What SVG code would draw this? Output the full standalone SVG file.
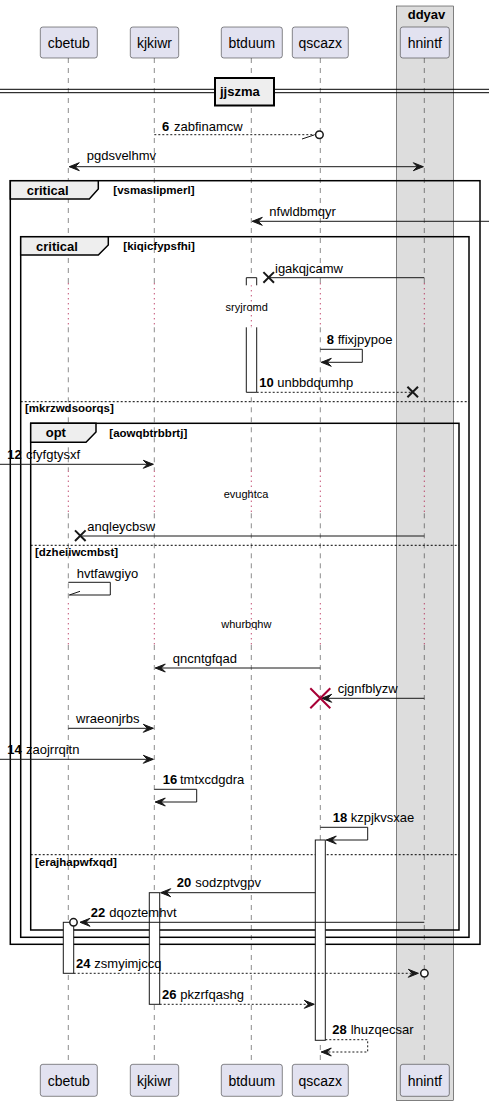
<svg xmlns="http://www.w3.org/2000/svg" xmlns:xlink="http://www.w3.org/1999/xlink" width="495" height="1106" viewBox="0 0 495 1106">
  <style>
    text { font-family: "Liberation Sans", Arial, sans-serif; fill: #000; }
    .pname { font-size: 14px; }
    .msg { font-size: 13px; }
    .num { font-size: 13px; font-weight: bold; }
    .gtitle { font-size: 13px; font-weight: bold; }
    .cond { font-size: 11.5px; font-weight: bold; }
    .delay { font-size: 11px; }
    .part { fill: #E2E2F0; stroke: #181818; stroke-width: 0.5; }
    .life { stroke: #181818; stroke-width: 0.5; stroke-dasharray: 5,5; fill: none; }
    .dots { stroke: #A80036; stroke-width: 1; stroke-dasharray: 1,4; fill: none; }
    .frame { fill: none; stroke: #000; stroke-width: 1.5; }
    .tab { fill: #EEEEEE; stroke: #000; stroke-width: 1.5; }
    .sep { stroke: #000; stroke-width: 1; stroke-dasharray: 2,2; fill: none; }
    .line { stroke: #181818; stroke-width: 1; fill: none; }
    .dash { stroke: #181818; stroke-width: 1; stroke-dasharray: 2,2; fill: none; }
    .head { fill: #181818; stroke: #181818; stroke-width: 1; }
    .kill { stroke: #181818; stroke-width: 2; fill: none; }
    .killred { stroke: #A80036; stroke-width: 2; fill: none; }
    .ring { fill: #FFFFFF; stroke: #181818; stroke-width: 1.5; }
    .act { fill: #FFFFFF; stroke: #181818; stroke-width: 1; }
  </style>
  <defs>
    <!-- filled arrowheads, tip at origin -->
    <path id="headR" class="head" d="M0,0 L-10,-4 L-6,0 L-10,4 Z"/>
    <path id="headL" class="head" d="M0,0 L10,-4 L6,0 L10,4 Z"/>
    <path id="cross" d="M-5.3,-5.3 L5.3,5.3 M-5.3,5.3 L5.3,-5.3"/>
  </defs>

  <!-- box ddyav -->
  <g id="box-ddyav">
    <rect x="396.3" y="6" width="57.4" height="1094.7" fill="#DDDDDD" stroke="#181818" stroke-width="0.5"/>
    <text x="426.5" y="19" text-anchor="middle" class="gtitle">ddyav</text>
  </g>

  <!-- lifelines (broken where delays are drawn) -->
  <g id="lifelines">
    <path class="life" d="M68.3,58 V283.3 M68.3,327.3 V470.7 M68.3,513.3 V603.3 M68.3,645 V1064"/>
    <path class="life" d="M154.3,58 V283.3 M154.3,327.3 V470.7 M154.3,513.3 V603.3 M154.3,645 V1064"/>
    <path class="life" d="M251.3,58 V283.3 M251.3,327.3 V470.7 M251.3,513.3 V603.3 M251.3,645 V1064"/>
    <path class="life" d="M320.3,58 V283.3 M320.3,327.3 V470.7 M320.3,513.3 V603.3 M320.3,645 V1064"/>
    <path class="life" d="M424.3,58 V283.3 M424.3,327.3 V470.7 M424.3,513.3 V603.3 M424.3,645 V1064"/>
  </g>

  <!-- participants, top and bottom -->
  <g id="p-cbetub">
    <rect class="part" x="40.3" y="27" width="57" height="31" rx="2.5"/>
    <text class="pname" x="68.8" y="48" text-anchor="middle">cbetub</text>
    <rect class="part" x="40.3" y="1064.3" width="57" height="32" rx="2.5"/>
    <text class="pname" x="68.8" y="1085.5" text-anchor="middle">cbetub</text>
  </g>
  <g id="p-kjkiwr">
    <rect class="part" x="130.3" y="27" width="48.4" height="31" rx="2.5"/>
    <text class="pname" x="154.5" y="48" text-anchor="middle">kjkiwr</text>
    <rect class="part" x="130.3" y="1064.3" width="48.4" height="32" rx="2.5"/>
    <text class="pname" x="154.5" y="1085.5" text-anchor="middle">kjkiwr</text>
  </g>
  <g id="p-btduum">
    <rect class="part" x="221.3" y="27" width="61" height="31" rx="2.5"/>
    <text class="pname" x="251.8" y="48" text-anchor="middle">btduum</text>
    <rect class="part" x="221.3" y="1064.3" width="61" height="32" rx="2.5"/>
    <text class="pname" x="251.8" y="1085.5" text-anchor="middle">btduum</text>
  </g>
  <g id="p-qscazx">
    <rect class="part" x="292.3" y="27" width="56" height="31" rx="2.5"/>
    <text class="pname" x="320.3" y="48" text-anchor="middle">qscazx</text>
    <rect class="part" x="292.3" y="1064.3" width="56" height="32" rx="2.5"/>
    <text class="pname" x="320.3" y="1085.5" text-anchor="middle">qscazx</text>
  </g>
  <g id="p-hnintf">
    <rect class="part" x="400.3" y="27" width="49" height="31" rx="2.5"/>
    <text class="pname" x="424.8" y="48" text-anchor="middle">hnintf</text>
    <rect class="part" x="400.3" y="1064.3" width="49" height="32" rx="2.5"/>
    <text class="pname" x="424.8" y="1085.5" text-anchor="middle">hnintf</text>
  </g>

  <!-- divider -->
  <g id="divider-jjszma">
    <line x1="0" y1="89.3" x2="489" y2="89.3" stroke="#000" stroke-width="1"/>
    <line x1="0" y1="92.7" x2="489" y2="92.7" stroke="#000" stroke-width="1"/>
    <rect x="215" y="78" width="59" height="27.5" fill="#EEEEEE" stroke="#000" stroke-width="2"/>
    <text class="gtitle" x="220" y="96">jjszma</text>
  </g>

  <!-- delays -->
  <g id="delay-sryjromd">
    <path class="dots" d="M68.3,283.3 V327.3 M154.3,283.3 V327.3 M251.3,285.3 V327.3 M320.3,283.3 V327.3 M424.3,283.3 V327.3"/>
    <text class="delay" x="246.7" y="310.7" text-anchor="middle">sryjromd</text>
  </g>
  <g id="delay-evughtca">
    <path class="dots" d="M68.3,470.7 V513.3 M154.3,470.7 V513.3 M251.3,470.7 V513.3 M320.3,470.7 V513.3 M424.3,470.7 V513.3"/>
    <text class="delay" x="246" y="498.3" text-anchor="middle">evughtca</text>
  </g>
  <g id="delay-whurbqhw">
    <path class="dots" d="M68.3,603.3 V645 M154.3,603.3 V645 M251.3,603.3 V645 M320.3,603.3 V645 M424.3,603.3 V645"/>
    <text class="delay" x="246.3" y="628.3" text-anchor="middle">whurbqhw</text>
  </g>

  <!-- groups -->
  <g id="group-critical-outer">
    <rect class="frame" x="10.3" y="180.7" width="469.7" height="763.6"/>
    <path class="tab" d="M10.3,180.7 H98.3 V189 L89.3,199 H10.3 Z"/>
    <text class="gtitle" x="26.7" y="194.5">critical</text>
    <text class="cond" x="113.3" y="193.5">[vsmaslipmerl]</text>
  </g>
  <g id="group-critical-inner">
    <rect class="frame" x="20.7" y="236.7" width="448.3" height="700.6"/>
    <path class="tab" d="M20.7,236.7 H108.3 V245 L98.3,255 H20.7 Z"/>
    <text class="gtitle" x="36" y="250.5">critical</text>
    <text class="cond" x="123.3" y="249.5">[kiqicfypsfhi]</text>
    <line class="sep" x1="20.7" y1="401.7" x2="469" y2="401.7"/>
    <text class="cond" x="25" y="411.7">[mkrzwdsoorqs]</text>
  </g>
  <g id="group-opt">
    <rect class="frame" x="30.7" y="423.3" width="428.3" height="506.7"/>
    <path class="tab" d="M30.7,423.3 H96 V432 L86,442.3 H30.7 Z"/>
    <text class="gtitle" x="45.7" y="437.3">opt</text>
    <text class="cond" x="109.3" y="437">[aowqbtrbbrtj]</text>
    <line class="sep" x1="30.7" y1="545.3" x2="459" y2="545.3"/>
    <text class="cond" x="35" y="556">[dzheiiwcmbst]</text>
    <line class="sep" x1="30.7" y1="854.7" x2="459" y2="854.7"/>
    <text class="cond" x="35" y="865.7">[erajhapwfxqd]</text>
  </g>

  <!-- activation bars -->
  <g id="activations">
    <path class="act" d="M246.3,285.3 V277.7 H256.7 V285.3"/>
    <path class="act" d="M246.3,327.3 V392.3 H256.7 V327.3"/>
    <rect class="act" x="315.3" y="840" width="10" height="200.3"/>
    <rect class="act" x="149.3" y="892.7" width="10.4" height="111.6"/>
    <rect class="act" x="63.3" y="922.3" width="10.4" height="51"/>
  </g>

  <!-- messages -->
  <g id="connectors">
    <!-- 6 zabfinamcw -->
    <line class="dash" x1="154.3" y1="134.7" x2="315.5" y2="134.7"/>
    <line class="line" x1="302" y1="139" x2="314" y2="135"/>
    <circle class="ring" cx="319.4" cy="134.7" r="3.8"/>
    <text class="msg" x="162" y="130.7"><tspan class="num">6</tspan><tspan x="174">zabfinamcw</tspan></text>

    <!-- pgdsvelhmv -->
    <line class="line" x1="69.3" y1="166.7" x2="423.3" y2="166.7"/>
    <use xlink:href="#headL" x="69.3" y="166.7"/>
    <use xlink:href="#headR" x="423.3" y="166.7"/>
    <text class="msg" x="86.7" y="159.5">pgdsvelhmv</text>

    <!-- nfwldbmqyr -->
    <line class="line" x1="252.3" y1="221.3" x2="489" y2="221.3"/>
    <use xlink:href="#headL" x="252.3" y="221.3"/>
    <text class="msg" x="269.3" y="216">nfwldbmqyr</text>

    <!-- igakqjcamw -->
    <line class="line" x1="270" y1="277.7" x2="424.3" y2="277.7"/>
    <use xlink:href="#cross" class="kill" x="268.7" y="277.4"/>
    <text class="msg" x="275" y="273.3">igakqjcamw</text>

    <!-- 8 ffixjpypoe -->
    <path class="line" d="M320.3,349.3 H362.3 V362.3 H321.3"/>
    <use xlink:href="#headL" x="321.3" y="362.3"/>
    <text class="msg" x="326.7" y="344"><tspan class="num">8</tspan><tspan x="337.7">ffixjpypoe</tspan></text>

    <!-- 10 unbbdqumhp -->
    <line class="dash" x1="256.7" y1="392.3" x2="411" y2="392.3"/>
    <use xlink:href="#cross" class="kill" x="412.7" y="392"/>
    <text class="msg" x="259.3" y="387.3"><tspan class="num">10</tspan><tspan x="277.3">unbbdqumhp</tspan></text>

    <!-- 12 cfyfgtysxf -->
    <line class="line" x1="0" y1="464.3" x2="153.3" y2="464.3"/>
    <use xlink:href="#headR" x="153.3" y="464.3"/>
    <text class="msg" x="7.3" y="459.3"><tspan class="num">12</tspan><tspan x="26">cfyfgtysxf</tspan></text>

    <!-- anqleycbsw -->
    <line class="line" x1="82" y1="536" x2="424.3" y2="536"/>
    <use xlink:href="#cross" class="kill" x="80.3" y="535.7"/>
    <text class="msg" x="87.3" y="531">anqleycbsw</text>

    <!-- hvtfawgiyo -->
    <path class="line" d="M68.3,582.3 H110.3 V595 H69.3"/>
    <line class="line" x1="69.3" y1="595" x2="80" y2="591.3"/>
    <text class="msg" x="76.7" y="577.7">hvtfawgiyo</text>

    <!-- qncntgfqad -->
    <line class="line" x1="155.3" y1="668" x2="320.3" y2="668"/>
    <use xlink:href="#headL" x="155.3" y="668"/>
    <text class="msg" x="172.7" y="662.7">qncntgfqad</text>

    <!-- cjgnfblyzw -->
    <line class="line" x1="321.7" y1="698.3" x2="424.3" y2="698.3"/>
    <use xlink:href="#headL" x="321.7" y="698.3"/>
    <path class="killred" d="M310.3,688.3 L330.3,708.3 M310.3,708.3 L330.3,688.3"/>
    <text class="msg" x="337.7" y="693.3">cjgnfblyzw</text>

    <!-- wraeonjrbs -->
    <line class="line" x1="68.3" y1="728.3" x2="153.3" y2="728.3"/>
    <use xlink:href="#headR" x="153.3" y="728.3"/>
    <text class="msg" x="76" y="723.3">wraeonjrbs</text>

    <!-- 14 zaojrrqitn -->
    <line class="line" x1="0" y1="759.3" x2="153.3" y2="759.3"/>
    <use xlink:href="#headR" x="153.3" y="759.3"/>
    <text class="msg" x="7.3" y="754"><tspan class="num">14</tspan><tspan x="26">zaojrrqitn</tspan></text>

    <!-- 16 tmtxcdgdra -->
    <path class="line" d="M154.3,789.3 H196.7 V802 H155.3"/>
    <use xlink:href="#headL" x="155.3" y="802"/>
    <text class="msg" x="162.7" y="784.3"><tspan class="num">16</tspan><tspan x="180">tmtxcdgdra</tspan></text>

    <!-- 18 kzpjkvsxae -->
    <path class="line" d="M320.3,827.3 H367.7 V840 H326.3"/>
    <use xlink:href="#headL" x="326.3" y="840"/>
    <text class="msg" x="332.7" y="821.7"><tspan class="num">18</tspan><tspan x="350.7">kzpjkvsxae</tspan></text>

    <!-- 20 sodzptvgpv -->
    <line class="line" x1="160.7" y1="892.7" x2="315.3" y2="892.7"/>
    <use xlink:href="#headL" x="160.7" y="892.7"/>
    <text class="msg" x="176.7" y="886.7"><tspan class="num">20</tspan><tspan x="195.3">sodzptvgpv</tspan></text>

    <!-- 22 dqoztemhvt -->
    <line class="line" x1="80" y1="922.3" x2="424.3" y2="922.3"/>
    <use xlink:href="#headL" x="80" y="922.3"/>
    <circle class="ring" cx="73.5" cy="922.3" r="3.7"/>
    <text class="msg" x="90.7" y="916.7"><tspan class="num">22</tspan><tspan x="109.3">dqoztemhvt</tspan></text>

    <!-- 24 zsmyimjccq -->
    <line class="dash" x1="73.7" y1="973.3" x2="418.3" y2="973.3"/>
    <use xlink:href="#headR" x="418.3" y="973.3"/>
    <circle class="ring" cx="424.4" cy="973.3" r="3.7"/>
    <text class="msg" x="76" y="968.3"><tspan class="num">24</tspan><tspan x="94.3">zsmyimjccq</tspan></text>

    <!-- 26 pkzrfqashg -->
    <line class="dash" x1="159.7" y1="1004.3" x2="314.3" y2="1004.3"/>
    <use xlink:href="#headR" x="314.3" y="1004.3"/>
    <text class="msg" x="162" y="999"><tspan class="num">26</tspan><tspan x="180.3">pkzrfqashg</tspan></text>

    <!-- 28 lhuzqecsar -->
    <path class="dash" d="M325.3,1039.7 H367.7 V1052 H321.3"/>
    <use xlink:href="#headL" x="321.3" y="1052"/>
    <text class="msg" x="332.3" y="1034"><tspan class="num">28</tspan><tspan x="350.7">lhuzqecsar</tspan></text>
  </g>
</svg>
